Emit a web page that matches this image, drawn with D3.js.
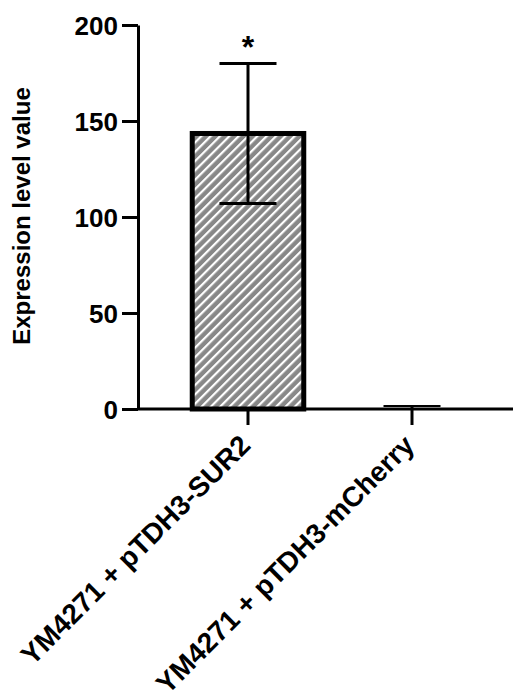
<!DOCTYPE html>
<html>
<head>
<meta charset="utf-8">
<script src="https://cdn.jsdelivr.net/npm/d3@7"></script>
<style>
  body { margin: 0; background: #fff; }
  text { font-family: "Liberation Sans", Arial, sans-serif; font-weight: bold; }
</style>
</head>
<body>
<div class="chart"></div>
<script>
const width = 515;
const height = 698;
const margin = { top: 25, left: 138, right: 3, bottom: 289 };

// data
const grupos = ["YM4271 + pTDH3-SUR2", "YM4271 + pTDH3-mCherry"];
const medias = [143.5, 0.8];
const errores = [36.5, 0.7];
const marcas = ["*", ""];
const ticksY = [0, 50, 100, 150, 200];

const svg = d3.select(".chart")
              .append("svg")
              .attr("width", width)
              .attr("height", height);

const escalaX = d3.scaleBand()
                  .domain(grupos)
                  .range([margin.left + 28, margin.left + 28 + 328])
                  .paddingInner(0.32)
                  .paddingOuter(0.16);

const escalaY = d3.scaleLinear()
                  .domain([0, 200])
                  .range([height - margin.bottom, margin.top]);

const y0 = escalaY(0);

// patron rayado
const defs = svg.append("defs");
const patron = defs.append("pattern")
                   .attr("id", "rayas")
                   .attr("patternUnits", "userSpaceOnUse")
                   .attr("width", 6.6)
                   .attr("height", 6.6)
                   .attr("patternTransform", "rotate(45)");
patron.append("rect").attr("width", 6.6).attr("height", 6.6).attr("fill", "#888");
patron.append("rect").attr("x", 0).attr("width", 2.2).attr("height", 6.6).attr("fill", "#fff");

// barras
const barras = svg.append("g");
barras.selectAll("rect")
      .data(grupos)
      .join("rect")
      .attr("x", (d) => escalaX(d))
      .attr("y", (d, i) => escalaY(medias[i]))
      .attr("width", escalaX.bandwidth())
      .attr("height", (d, i) => y0 - escalaY(medias[i]))
      .attr("fill", (d, i) => medias[i] > 5 ? "url(#rayas)" : "none")
      .attr("stroke", (d, i) => medias[i] > 5 ? "#000" : "none")
      .attr("stroke-width", 5);

// barras de error
const errorG = svg.append("g").attr("stroke", "#000").attr("stroke-width", 3);
grupos.forEach((g, i) => {
    const cx = escalaX(g) + escalaX.bandwidth() / 2;
    const top = escalaY(medias[i] + errores[i]);
    const bot = escalaY(Math.max(0, medias[i] - errores[i]));
    const cap = 57 / 2;
    errorG.append("line").attr("x1", cx).attr("x2", cx).attr("y1", top).attr("y2", bot);
    errorG.append("line").attr("x1", cx - cap).attr("x2", cx + cap).attr("y1", top).attr("y2", top)
          .attr("stroke-width", medias[i] > 5 ? 3 : 2);
    errorG.append("line").attr("x1", cx - cap).attr("x2", cx + cap).attr("y1", bot).attr("y2", bot)
          .attr("stroke-width", medias[i] > 5 ? 3 : 0);
    if (marcas[i]) {
        svg.append("text")
           .attr("x", cx)
           .attr("y", top - 5)
           .attr("text-anchor", "middle")
           .attr("font-size", 32)
           .text(marcas[i]);
    }
});

// ejes
const ejeY = svg.append("g")
                .attr("transform", `translate(${margin.left},0)`)
                .call(d3.axisLeft(escalaY).tickValues(ticksY).tickSize(16).tickSizeOuter(0).tickPadding(4));

const ejeX = svg.append("g")
                .attr("transform", `translate(0,${y0})`)
                .call(d3.axisBottom(escalaX).tickSize(16).tickSizeOuter(0));

ejeX.select(".domain").attr("d", `M${margin.left},0H${width - 2}`);

[ejeX, ejeY].forEach((eje) => {
    eje.select(".domain").attr("stroke", "#000").attr("stroke-width", 3);
    eje.selectAll(".tick line").attr("stroke", "#000").attr("stroke-width", 3);
    eje.selectAll("text").attr("fill", "#000");
});

ejeY.selectAll(".tick text").attr("font-size", 26).attr("dy", "0.36em");

ejeX.selectAll(".tick text")
    .attr("text-anchor", "end")
    .attr("font-size", 28)
    .attr("dy", 0)
    .attr("transform", "translate(4,38) rotate(-45)")
    .attr("y", 0)
    .attr("x", 0);

// titulo eje Y
svg.append("text")
   .attr("transform", `translate(30,216) rotate(-90)`)
   .attr("text-anchor", "middle")
   .attr("font-size", 24)
   .text("Expression level value");
</script>
</body>
</html>
